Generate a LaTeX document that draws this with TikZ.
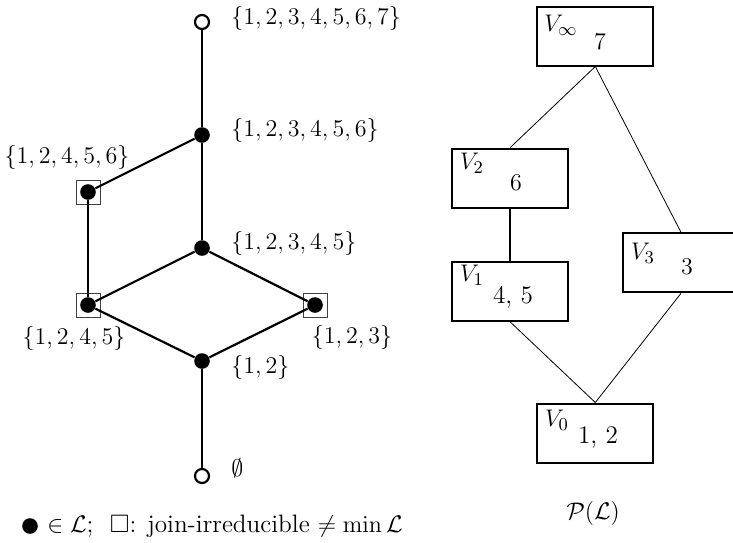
\documentclass[tikz,border=0pt]{standalone}
\usepackage{amssymb}
\begin{document}
\begin{tikzpicture}[x=0.5pt,y=-0.5pt,
  every node/.style={font=\fontsize{12.6}{15}\selectfont},
  dot/.style={circle,fill=black,minimum size=7.8pt,inner sep=0pt},
  odot/.style={circle,draw=black,fill=white,line width=1.1pt,minimum size=7pt,inner sep=0pt},
  jsq/.style={rectangle,draw=black!75,line width=0.45pt,minimum size=12pt,inner sep=0pt},
  edge/.style={line width=1.1pt},
  vbox/.style={draw,line width=1pt,minimum width=58pt,minimum height=29.5pt,inner sep=0pt},
  thin/.style={line width=0.4pt},
  lbl/.style={inner sep=0pt}]
\useasboundingbox (0,0) rectangle (733,542);
% join-irreducible squares
\node[jsq] (s12456) at (88,192) {};
\node[jsq] (s1245) at (88,305) {};
\node[jsq] (s123) at (315,305) {};
% lattice nodes
\node[odot] (top) at (202,22) {};
\node[dot] (n123456) at (202,135) {};
\node[dot] (n12345) at (202,248) {};
\node[dot] (n12) at (202,361) {};
\node[odot] (bot) at (202,476) {};
\node[dot] (n12456) at (88,192) {};
\node[dot] (n1245) at (88,305) {};
\node[dot] (n123) at (315,305) {};
% edges
\draw[edge] (top) -- (n123456);
\draw[edge] (n123456) -- (n12345);
\draw[edge] (n123456) -- (n12456);
\draw[edge] (n12456) -- (n1245);
\draw[edge] (n12345) -- (n1245);
\draw[edge] (n12345) -- (n123);
\draw[edge] (n1245) -- (n12);
\draw[edge] (n123) -- (n12);
\draw[edge] (n12) -- (bot);
% labels
\node[lbl,anchor=west] (l7) at (231,18) {$\{1,2,3,4,5,6,7\}$};
\node[lbl,anchor=west] (l6) at (231,130) {$\{1,2,3,4,5,6\}$};
\node[lbl,anchor=west] (l5) at (231,243) {$\{1,2,3,4,5\}$};
\node[lbl] (l12456) at (67,157) {$\{1,2,4,5,6\}$};
\node[lbl] (l1245) at (74,338) {$\{1,2,4,5\}$};
\node[lbl] (l123) at (352,337) {$\{1,2,3\}$};
\node[lbl,anchor=west] (l12) at (231,367) {$\{1,2\}$};
\node[lbl,anchor=west] (lempty) at (231,468) {$\emptyset$};
% legend
\node[dot] (legdot) at (30,526) {};
\node[lbl,anchor=west] (legend) at (47,526) {$\in\mathcal{L}$;\ \ $\square$: join-irreducible $\neq\min\mathcal{L}$};
% right poset
\node[vbox] (Vinf) at (595.3,36) {};
\node[vbox] (V2) at (510.3,178) {};
\node[vbox] (V3) at (681,262.8) {};
\node[vbox] (V1) at (510.3,291.5) {};
\node[vbox] (V0) at (595.3,433) {};
\node[lbl] (tinf) at (561,25) {$V_\infty$};
\node[lbl] (cinf) at (600,42) {$7$};
\node[lbl] (t2) at (472,163) {$V_2$};
\node[lbl] (c2) at (516,183) {$6$};
\node[lbl] (t3) at (643,253) {$V_3$};
\node[lbl] (c3) at (687,267) {$3$};
\node[lbl] (t1) at (472,275) {$V_1$};
\node[lbl] (c1) at (513,297) {4, 5};
\node[lbl] (t0) at (557,420) {$V_0$};
\node[lbl] (c0) at (598,438) {1, 2};
\draw[thin] (Vinf.south) -- (V2.north);
\draw[thin] (Vinf.south) -- (V3.north);
\draw[line width=1pt] (V2.south) -- (V1.north);
\draw[thin] (V1.south) -- (V0.north);
\draw[thin] (V3.south) -- (V0.north);
\node[lbl] (PL) at (593,513) {$\mathcal{P}(\mathcal{L})$};
\end{tikzpicture}
\end{document}
